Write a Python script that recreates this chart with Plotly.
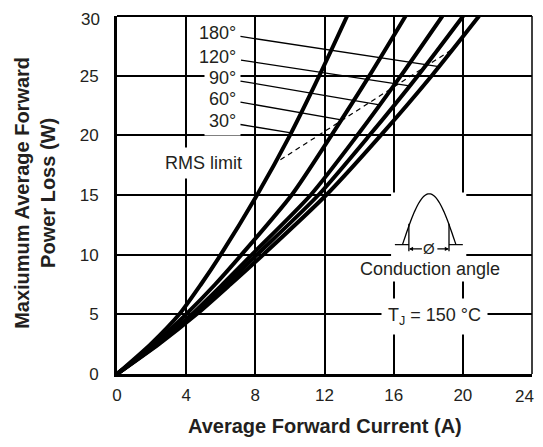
import numpy as np
import plotly.graph_objects as go

# ---- data ----
power_levels = [0, 2.5, 5, 7.5, 10, 15, 20, 25, 30]               # W
current_30 = [0, 1.95, 3.6, 4.85, 6.0, 8.1, 10.0, 11.7, 13.31]     # A
current_60 = [0, 2.14, 3.99, 5.67, 7.2, 10.1, 12.4, 14.6, 16.69]
current_90 = [0, 2.3, 4.33, 6.1, 7.8, 11.2, 13.9, 16.42, 18.82]
current_120 = [0, 2.36, 4.45, 6.3, 8.1, 11.65, 14.6, 17.4, 20.02]
current_180 = [0, 2.42, 4.6, 6.55, 8.45, 12.1, 15.25, 18.2, 20.94]

angle_labels = ["180°", "120°", "90°", "60°", "30°"]
label_current = [5.81, 5.84, 6.1, 6.1, 6.1]
label_power = [28.58, 26.6, 24.81, 23.05, 21.16]
leader_power = [25.76, 24.14, 22.55, 21.3, 20.2]

rms_current = [9.45, 19.6]
rms_power = [17.95, 27.4]

x_ticks = [0, 4, 8, 12, 16, 20, 24]
y_ticks = [0, 5, 10, 15, 20, 25, 30]

FONT = "Liberation Sans, Arial, sans-serif"
INK = "#231f20"

curves = {"30°": current_30, "60°": current_60, "90°": current_90,
          "120°": current_120, "180°": current_180}

fig = go.Figure()
for name, cur in curves.items():
    fig.add_trace(go.Scatter(x=cur, y=power_levels, mode="lines", name=name,
                             line=dict(color="black", width=4, shape="spline", smoothing=0.7),
                             showlegend=False, hoverinfo="skip"))

fig.add_trace(go.Scatter(x=rms_current, y=rms_power, mode="lines",
                         line=dict(color="black", width=1.2, dash="5px,4px"),
                         showlegend=False, hoverinfo="skip"))

annotations = []
curve_by_label = {"180°": current_180, "120°": current_120, "90°": current_90,
                  "60°": current_60, "30°": current_30}
for lab, lx, ly, lp in zip(angle_labels, label_current, label_power, leader_power):
    tx = float(np.interp(lp, power_levels, curve_by_label[lab]))
    annotations.append(dict(x=tx, y=lp, ax=lx, ay=ly, xref="x", yref="y", axref="x", ayref="y",
                            text=lab, showarrow=True, arrowhead=0, arrowwidth=1.3,
                            arrowcolor="black", standoff=0, startstandoff=0,
                            bgcolor="white", borderpad=4,
                            font=dict(family=FONT, size=18, color=INK)))

annotations.append(dict(x=5.0, y=17.7, xref="x", yref="y", text="RMS limit", showarrow=False,
                        bgcolor="white", borderpad=5, font=dict(family=FONT, size=18, color=INK)))
annotations.append(dict(x=18.09, y=8.83, xref="x", yref="y", text="Conduction angle", showarrow=False,
                        bgcolor="white", borderpad=2, font=dict(family=FONT, size=18, color=INK)))
annotations.append(dict(x=18.38, y=4.84, xref="x", yref="y", text="T<sub>J</sub> = 150 °C",
                        showarrow=False, bgcolor="white", borderpad=6,
                        font=dict(family=FONT, size=18, color=INK)))
annotations.append(dict(x=18.07, y=10.5, xref="x", yref="y", text="Ø", showarrow=False,
                        font=dict(family=FONT, size=15, color=INK)))
# arrows of the conduction-angle symbol
for tip, tail in [(16.88, 17.72), (19.2, 18.44)]:
    annotations.append(dict(x=tip, y=10.48, ax=tail, ay=10.48, xref="x", yref="y", axref="x", ayref="y",
                            text="", showarrow=True, arrowhead=2, arrowsize=0.7, arrowwidth=1.2,
                            arrowcolor="black", standoff=0))

# end tick labels kept inside the figure box
annotations.append(dict(x=-0.0386, y=0.9916, xref="paper", yref="paper", xanchor="right",
                        yanchor="middle", text=str(y_ticks[-1]), showarrow=False, borderpad=0,
                        font=dict(family=FONT, size=17, color=INK)))
annotations.append(dict(x=1.0072, y=-0.063, xref="paper", yref="paper", xanchor="right",
                        yanchor="middle", text=str(x_ticks[-1]), showarrow=False, borderpad=0,
                        font=dict(family=FONT, size=17, color=INK)))

# axis titles
annotations.append(dict(x=0.501, y=-0.1785, xref="paper", yref="paper",
                        xanchor="center", yanchor="bottom", borderpad=0,
                        text="<b>Average Forward Current (A)</b>", showarrow=False,
                        font=dict(family=FONT, size=20, color=INK)))
annotations.append(dict(x=-0.1976, y=0.506, xref="paper", yref="paper", textangle=-90,
                        xanchor="center", yanchor="middle", borderpad=0,
                        text="<b>Maxiumum Average Forward<br>Power Loss (W)</b>", showarrow=False,
                        font=dict(family=FONT, size=20, color=INK)))

# conduction angle symbol (decorative)
t = np.linspace(0, np.pi, 41)
hx = 16.51 + (19.6 - 16.51) * t / np.pi
hy = 10.84 + (15.1 - 10.84) * np.sin(t)
hump_path = "M " + " L ".join(f"{a:.3f},{b:.3f}" for a, b in zip(hx, hy))

shapes = [
    dict(type="rect", xref="x", yref="y", x0=15.85, x1=20.2, y0=8.3, y1=15.2,
         fillcolor="white", line=dict(width=0), layer="between"),
    dict(type="path", xref="x", yref="y", path=hump_path, line=dict(color="black", width=1.3)),
    dict(type="line", xref="x", yref="y", x0=16.88, x1=16.88, y0=10.28, y1=12.6,
         line=dict(color="black", width=1.3)),
    dict(type="line", xref="x", yref="y", x0=19.2, x1=19.2, y0=10.28, y1=12.6,
         line=dict(color="black", width=1.3)),
    dict(type="line", xref="x", yref="y", x0=16.07, x1=16.88, y0=10.84, y1=10.84,
         line=dict(color="black", width=1.2)),
    dict(type="line", xref="x", yref="y", x0=19.2, x1=20.0, y0=10.84, y1=10.84,
         line=dict(color="black", width=1.2)),
    # frame top and right
    dict(type="line", xref="paper", yref="paper", x0=0, x1=1, y0=1, y1=1,
         line=dict(color="black", width=2.2)),
    dict(type="line", xref="paper", yref="paper", x0=1, x1=1, y0=0, y1=1,
         line=dict(color="black", width=1.5)),
]

x_text = [str(v) if v != x_ticks[-1] else "" for v in x_ticks]
y_text = [str(v) if v != y_ticks[-1] else "" for v in y_ticks]

# the page body has an 8px margin; size the figure so it fits the 543x447 window
fig.update_layout(
    width=527, height=431,
    margin=dict(l=109, r=3, t=8, b=64.5),
    paper_bgcolor="white", plot_bgcolor="white",
    showlegend=False,
    annotations=annotations, shapes=shapes,
    xaxis=dict(range=[0, 24], tickvals=x_ticks, ticktext=x_text,
               showgrid=True, gridcolor="black", gridwidth=1.5, zeroline=False,
               showline=True, linecolor="black", linewidth=3, ticks="",
               ticklabelstandoff=4,
               tickfont=dict(family=FONT, size=17, color=INK), fixedrange=True),
    yaxis=dict(range=[0, 30], tickvals=y_ticks, ticktext=y_text,
               showgrid=True, gridcolor="black", gridwidth=1.5, zeroline=False,
               showline=True, linecolor="black", linewidth=3, ticks="",
               ticklabelstandoff=12,
               tickfont=dict(family=FONT, size=17, color=INK), fixedrange=True),
)

fig.write_html("out.html", config={"displayModeBar": False})
